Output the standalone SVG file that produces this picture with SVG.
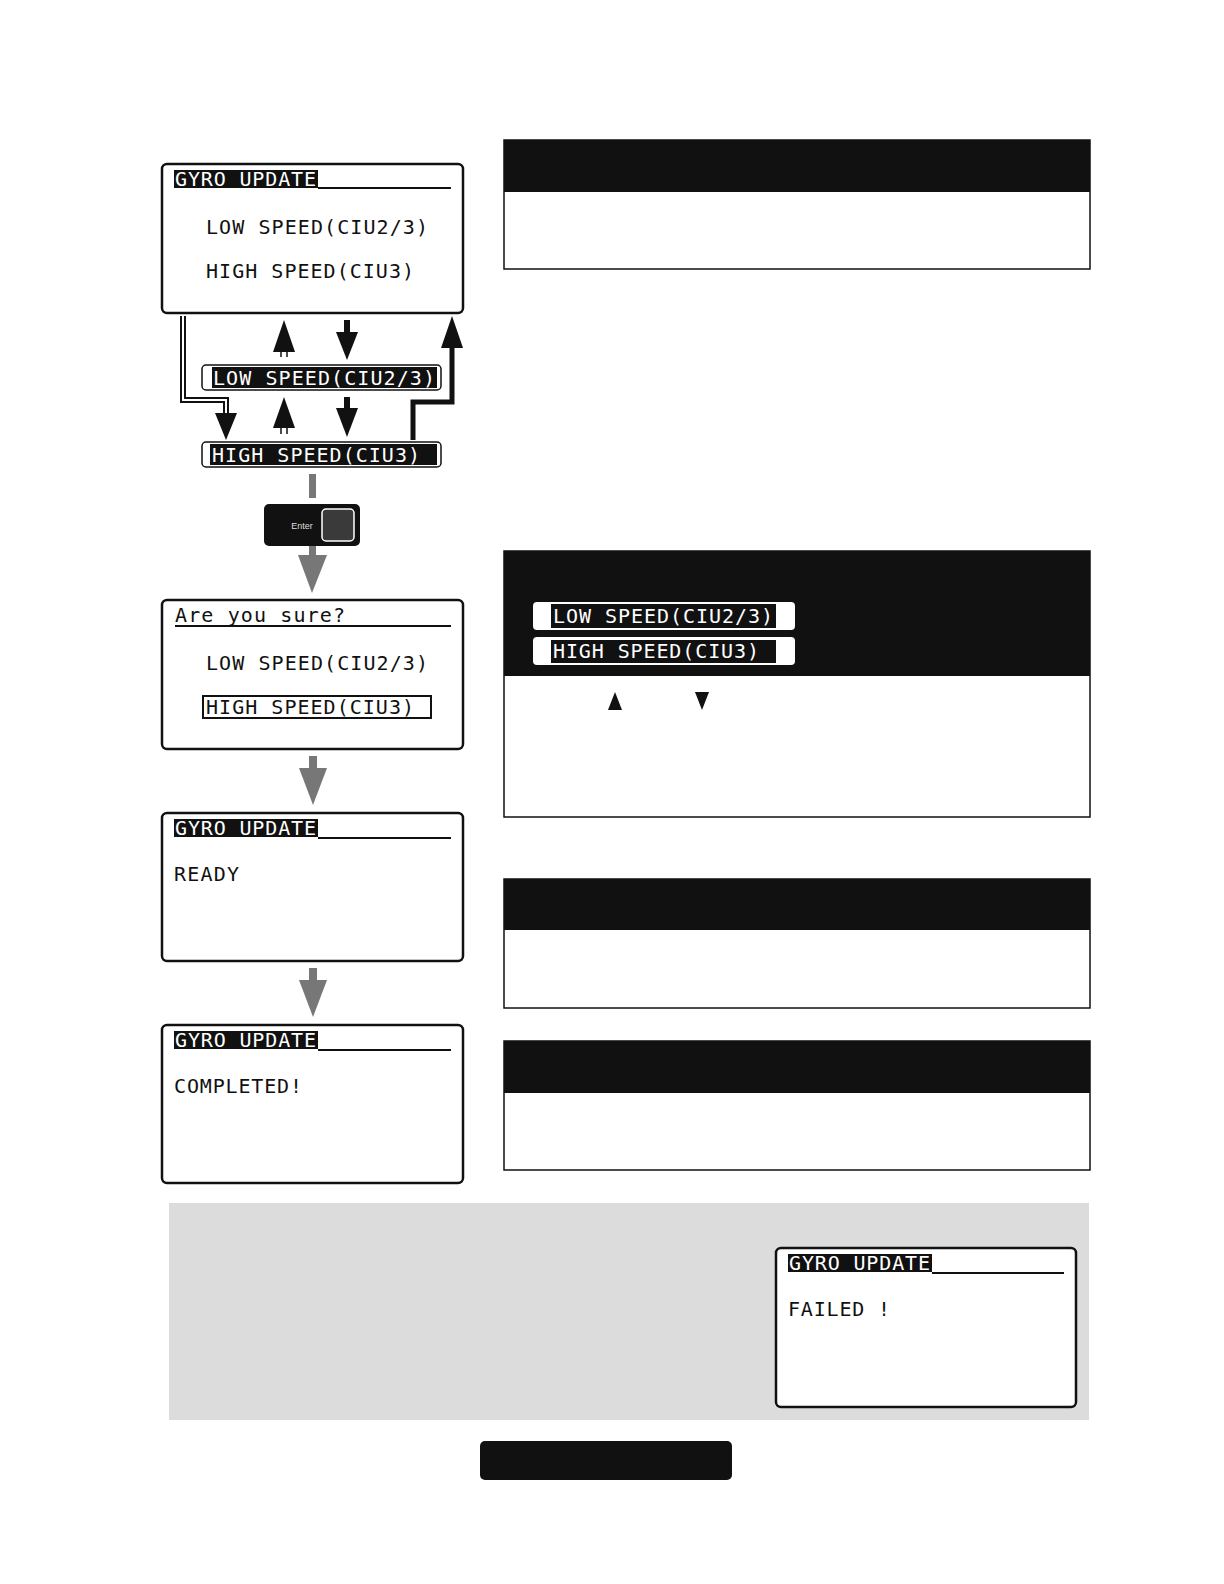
<svg xmlns="http://www.w3.org/2000/svg" width="1224" height="1584" viewBox="0 0 1224 1584">
<style>
.scr{fill:#fff;stroke:#111;stroke-width:2.5}
.lcd{font-family:"DejaVu Sans Mono","Liberation Mono",monospace;font-size:20px;fill:#111}
.inv{font-family:"DejaVu Sans Mono","Liberation Mono",monospace;font-size:20px;fill:#fff}
.pan{fill:#fff;stroke:#111;stroke-width:1.5}
.blk{fill:#111}
.ga{fill:#777}
</style>
<rect width="1224" height="1584" fill="#fff"/>
<g id="screen1">
<rect class="scr" x="162" y="164" width="301" height="149" rx="5"/>
<rect class="blk" x="174" y="170" width="144" height="18"/>
<text class="inv" x="175" y="186" textLength="141">GYRO UPDATE</text>
<line x1="318" y1="188" x2="451" y2="188" stroke="#111" stroke-width="2"/>
<text class="lcd" x="206" y="234" textLength="222">LOW SPEED(CIU2/3)</text>
<text class="lcd" x="206" y="278" textLength="208">HIGH SPEED(CIU3)</text>
</g>
<g id="lowbar">
<rect x="202" y="365" width="239" height="25" rx="4" fill="#fff" stroke="#111" stroke-width="1.5"/>
<rect class="blk" x="212" y="367" width="225" height="21"/>
<text class="inv" x="213" y="385" textLength="222">LOW SPEED(CIU2/3)</text>
</g>
<g id="highbar">
<rect x="202" y="442" width="239" height="25" rx="4" fill="#fff" stroke="#111" stroke-width="1.5"/>
<rect class="blk" x="210" y="444" width="227" height="21"/>
<text class="inv" x="212" y="462" textLength="208">HIGH SPEED(CIU3)</text>
</g>
<g id="enter">
<rect x="264" y="504" width="96" height="42" rx="5" fill="#111"/>
<rect x="322" y="509" width="32" height="32" rx="4" fill="#3a3a3a" stroke="#fff" stroke-width="1.5"/>
<text x="302" y="529" font-family="Liberation Sans,Arial,sans-serif" font-size="9" fill="#ddd" text-anchor="middle">Enter</text>
</g>
<g id="screen2">
<rect class="scr" x="162" y="600" width="301" height="149" rx="5"/>
<text class="lcd" x="175" y="622" textLength="170">Are you sure?</text>
<line x1="175" y1="626" x2="451" y2="626" stroke="#111" stroke-width="2"/>
<text class="lcd" x="206" y="670" textLength="222">LOW SPEED(CIU2/3)</text>
<rect x="203" y="696" width="228" height="22" fill="none" stroke="#111" stroke-width="2"/>
<text class="lcd" x="206" y="714" textLength="208">HIGH SPEED(CIU3)</text>
</g>
<g id="screen3">
<rect class="scr" x="162" y="813" width="301" height="148" rx="5"/>
<rect class="blk" x="174" y="819" width="144" height="18"/>
<text class="inv" x="175" y="835" textLength="141">GYRO UPDATE</text>
<line x1="318" y1="838" x2="451" y2="838" stroke="#111" stroke-width="2"/>
<text class="lcd" x="174" y="881" textLength="65">READY</text>
</g>
<g id="screen4">
<rect class="scr" x="162" y="1025" width="301" height="158" rx="5"/>
<rect class="blk" x="174" y="1031" width="144" height="18"/>
<text class="inv" x="175" y="1047" textLength="141">GYRO UPDATE</text>
<line x1="318" y1="1050" x2="451" y2="1050" stroke="#111" stroke-width="2"/>
<text class="lcd" x="174" y="1093" textLength="128">COMPLETED!</text>
</g>
<g id="panel1"><rect class="pan" x="504" y="140" width="586" height="129"/><rect class="blk" x="504" y="140" width="586" height="52"/></g>
<g id="panel2">
<rect class="pan" x="504" y="551" width="586" height="266"/><rect class="blk" x="504" y="551" width="586" height="125"/>
<rect x="533" y="602" width="262" height="28" rx="4" fill="#fff"/>
<rect class="blk" x="551" y="604" width="225" height="24"/>
<text class="inv" x="553" y="623" textLength="220">LOW SPEED(CIU2/3)</text>
<rect x="533" y="637" width="262" height="28" rx="4" fill="#fff"/>
<rect class="blk" x="551" y="640" width="225" height="23"/>
<text class="inv" x="553" y="658" textLength="206">HIGH SPEED(CIU3)</text>
<polygon class="blk" points="615,692 608,710 622,710"/>
<polygon class="blk" points="702,710 695,692 709,692"/>
</g>
<g id="panel3"><rect class="pan" x="504" y="879" width="586" height="129"/><rect class="blk" x="504" y="879" width="586" height="51"/></g>
<g id="panel4"><rect class="pan" x="504" y="1041" width="586" height="129"/><rect class="blk" x="504" y="1041" width="586" height="52"/></g>
<g id="note">
<rect x="169" y="1203" width="920" height="217" fill="#dcdcdc"/>
<g id="screen5">
<rect class="scr" x="776" y="1248" width="300" height="159" rx="5"/>
<rect class="blk" x="788" y="1254" width="144" height="18"/>
<text class="inv" x="789" y="1270" textLength="141">GYRO UPDATE</text>
<line x1="932" y1="1273" x2="1064" y2="1273" stroke="#111" stroke-width="2"/>
<text class="lcd" x="788" y="1316" textLength="102">FAILED !</text>
</g>
</g>
<rect id="footer" x="480" y="1441" width="252" height="39" rx="5" fill="#111"/>
<g id="connectors">
<path d="M281,357V345M287,357V345" stroke="#111" stroke-width="1.5" fill="none"/>
<polygon class="blk" points="284,320 273,352 295,352"/>
<rect class="blk" x="344" y="320" width="6" height="14"/>
<polygon class="blk" points="347,360 336,332 358,332"/>
<path d="M281,434V420M287,434V420" stroke="#111" stroke-width="1.5" fill="none"/>
<polygon class="blk" points="284,397 273,428 295,428"/>
<rect class="blk" x="344" y="397" width="6" height="12"/>
<polygon class="blk" points="347,437 336,408 358,408"/>
<path d="M183,316V400H226V420" stroke="#111" stroke-width="6" fill="none"/>
<path d="M183,316V400H226V420" stroke="#fff" stroke-width="2" fill="none"/>
<polygon class="blk" points="226,440 215,413 237,413"/>
<path d="M413,440V402H452V340" stroke="#111" stroke-width="5" fill="none"/>
<polygon class="blk" points="452,316 441,348 463,348"/>
<rect class="ga" x="309" y="474" width="7" height="24"/>
<rect class="ga" x="309" y="546" width="7" height="10"/>
<polygon class="ga" points="312,593 298,555 327,555"/>
<rect class="ga" x="309" y="756" width="8" height="14"/>
<polygon class="ga" points="313,805 299,768 327,768"/>
<rect class="ga" x="309" y="968" width="8" height="14"/>
<polygon class="ga" points="313,1017 299,980 327,980"/>
</g>
</svg>
